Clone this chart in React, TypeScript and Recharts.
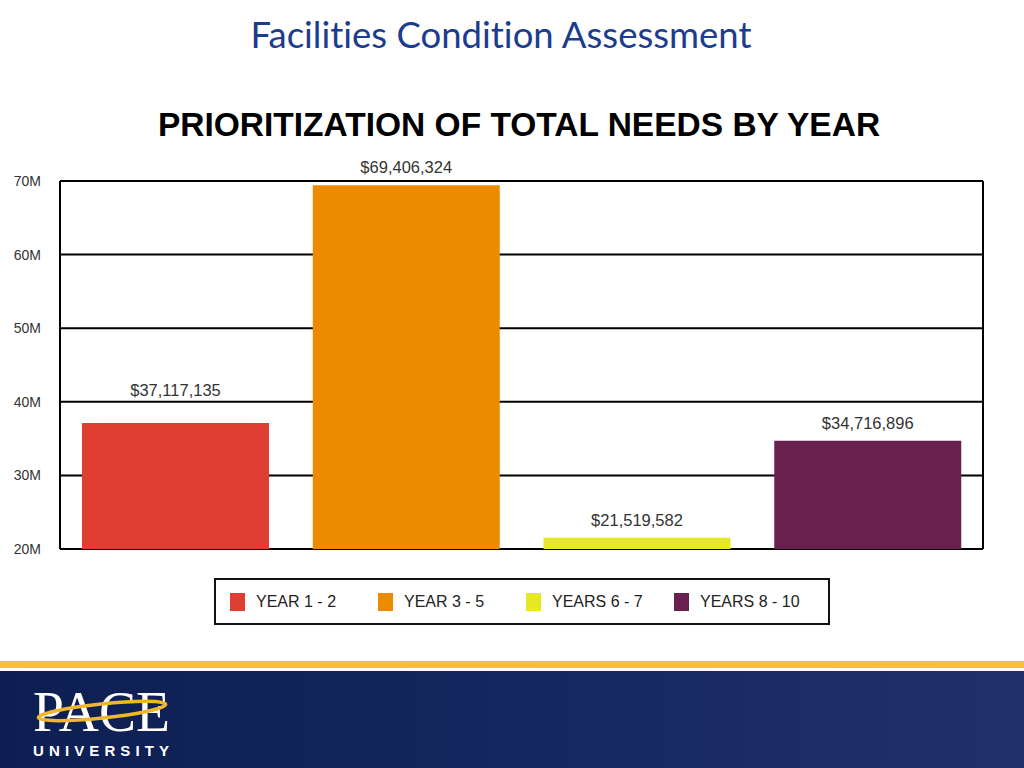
import { Bar, BarChart, CartesianGrid, Cell, LabelList, Legend, YAxis, XAxis } from "recharts"

const categories = ["YEAR 1 - 2", "YEAR 3 - 5", "YEARS 6 - 7", "YEARS 8 - 10"]
const needs = [37117135, 69406324, 21519582, 34716896]
const barColors = ["#e03e33", "#ec8b00", "#e6e825", "#69204f"]
const yTicks = [20000000, 30000000, 40000000, 50000000, 60000000, 70000000]

const data = categories.map((name, i) => ({ name, value: needs[i] }))

const fmtMoney = (v: number) => "$" + v.toLocaleString("en-US")
const fmtM = (v: number) => `${v / 1000000}M`

const sans = "'Liberation Sans', Arial, sans-serif"
const yMin = yTicks[0]

// value label above each bar; lifts itself above a gridline if it would sit on one
function ValueLabel(props: any) {
  const { x, y, width, height, value } = props
  const pxPerUnit = height / (value - yMin)
  let baseline = y - 12
  for (const t of yTicks) {
    const gy = y + height - (t - yMin) * pxPerUnit
    if (baseline > gy - 4 && baseline - 13 < gy + 2) baseline = gy - 6
  }
  return (
    <text x={x + width / 2} y={baseline} textAnchor="middle" fill="#333" fontSize={16.5} fontFamily={sans}>
      {fmtMoney(Number(value))}
    </text>
  )
}

function LegendBox() {
  return (
    <div
      style={{
        position: "absolute",
        left: 214 - 60,
        top: 578 - 549,
        width: 598,
        height: 43,
        border: "2px solid #111",
        display: "flex",
        alignItems: "center",
        paddingLeft: 14,
        boxSizing: "content-box",
      }}
    >
      {categories.map((c, i) => (
        <div key={c} style={{ width: 148, display: "flex", alignItems: "center" }}>
          <span style={{ width: 15, height: 18, background: barColors[i], marginRight: 11 }} />
          <span style={{ fontFamily: sans, fontSize: 16, color: "#222" }}>{c}</span>
        </div>
      ))}
    </div>
  )
}

export default function App() {
  return (
    <div style={{ position: "absolute", left: 0, top: 0, width: 1024, height: 768, background: "#fff", overflow: "hidden" }}>
      <div
        style={{
          position: "absolute",
          top: 12,
          left: 0,
          width: 1002,
          textAlign: "center",
          fontFamily: "Lato, 'Open Sans', sans-serif",
          fontVariantLigatures: "none",
          fontSize: 36.5,
          color: "#1b3c8f",
        }}
      >
        Facilities Condition Assessment
      </div>
      <div
        style={{
          position: "absolute",
          top: 106,
          left: 0,
          width: 1038,
          textAlign: "center",
          fontFamily: sans,
          fontWeight: 700,
          fontSize: 33.5,
          color: "#000",
        }}
      >
        PRIORITIZATION OF TOTAL NEEDS BY YEAR
      </div>

      <div style={{ position: "absolute", left: 0, top: 0 }}>
        <BarChart
          width={1024}
          height={768}
          data={data}
          margin={{ top: 181, right: 40, bottom: 219, left: 0 }}
          barSize={187}
        >
          <CartesianGrid yAxisId="left" vertical={false} stroke="#000" strokeWidth={2} />
          <XAxis dataKey="name" hide />
          <YAxis
            yAxisId="left"
            width={60}
            domain={[yMin, 70000000]}
            ticks={yTicks}
            allowDataOverflow
            tickFormatter={fmtM}
            tickLine={false}
            axisLine={{ stroke: "#000", strokeWidth: 2 }}
            tick={{ fill: "#333", fontSize: 14, fontFamily: sans }}
            tickMargin={13}
          />
          <YAxis
            yAxisId="right"
            orientation="right"
            width={1}
            domain={[yMin, 70000000]}
            ticks={yTicks}
            tick={false}
            tickLine={false}
            axisLine={{ stroke: "#000", strokeWidth: 2 }}
          />
          <Legend
            content={() => <LegendBox />}
            wrapperStyle={{ left: 60, top: 549, width: 923 }}
          />
          <Bar yAxisId="left" dataKey="value" isAnimationActive={false}>
            {data.map((d, i) => (
              <Cell key={d.name} fill={barColors[i]} />
            ))}
            <LabelList dataKey="value" content={<ValueLabel />} />
          </Bar>
        </BarChart>
      </div>

      {/* footer band */}
      <div style={{ position: "absolute", left: 0, top: 661, width: 1024, height: 7, background: "#f4c132" }} />
      <div
        style={{
          position: "absolute",
          left: 0,
          top: 671,
          width: 1024,
          height: 97,
          background: "linear-gradient(90deg, #0d1f52 0%, #14275e 50%, #22306a 100%)",
        }}
      />
      <svg style={{ position: "absolute", left: 0, top: 671 }} width={200} height={97}>
        <text x={33} y={60} fill="#fff" fontFamily="'Liberation Serif', 'DejaVu Serif', serif" fontSize={56} textLength={137} lengthAdjust="spacingAndGlyphs">
          PACE
        </text>
        <ellipse cx={102} cy={40} rx={64} ry={7} fill="none" stroke="#f0b72d" strokeWidth={3.5} transform="rotate(-6 102 40)" />
        <text x={33} y={85} fill="#fff" fontFamily={sans} fontWeight={700} fontSize={15} textLength={136}>
          UNIVERSITY
        </text>
      </svg>
    </div>
  )
}
